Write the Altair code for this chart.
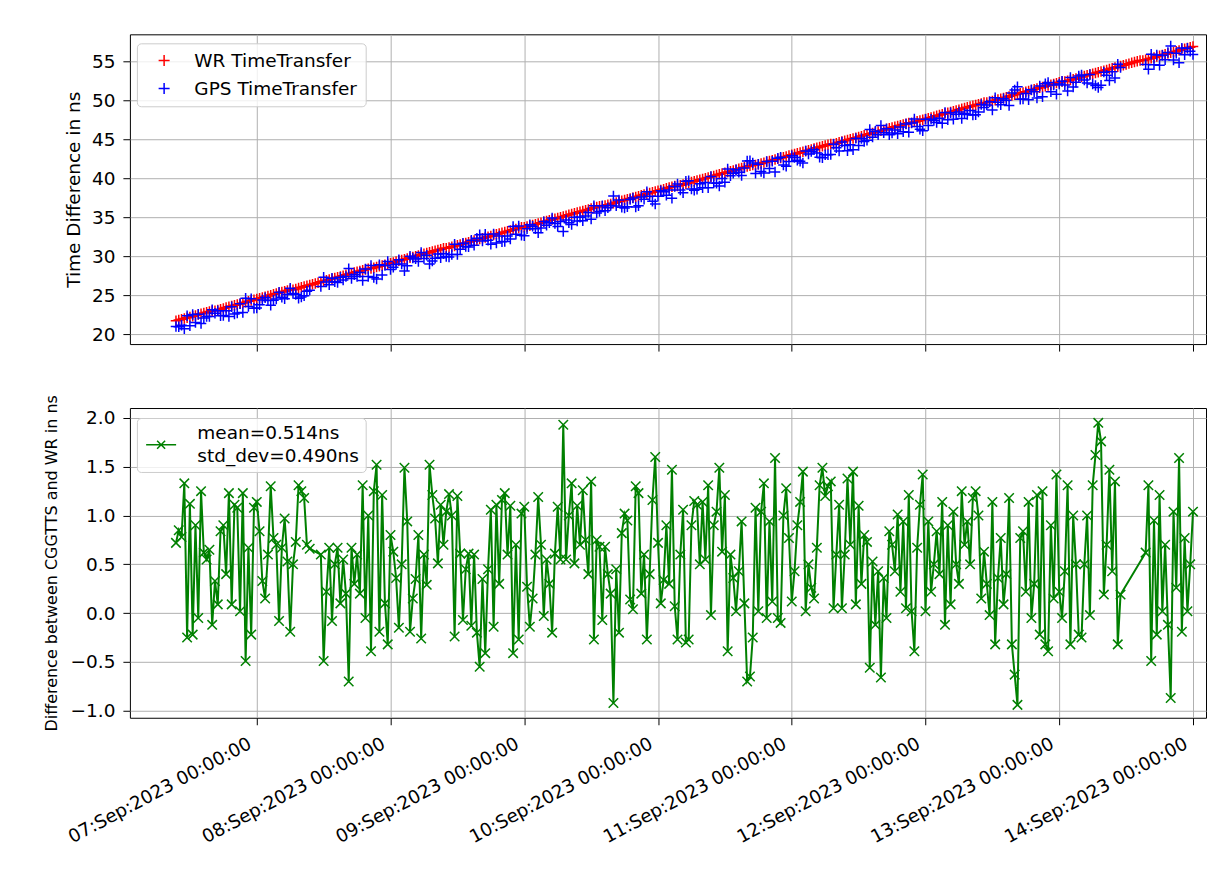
import altair as alt
import pandas as pd

# ---------------- data ----------------
START = "2023-09-06 09:30"      # first sample
STEP = "30min"                  # sample spacing

# Difference between CGGTTS and WR in ns (None = no GPS data in that slot)
DIFF = [
    0.72, 0.85, 0.78, 1.33, -0.25, 1.12, -0.22, 0.9, -0.05, 1.25,
    0.62, 0.55, 0.65, -0.12, 0.33, 0.09, 0.84, 0.9, 0.4, 1.23,
    0.09, 1.11, 1.08, 0.02, 1.23, -0.49, 0.67, -0.22, 1.08, 1.14,
    0.84, 0.33, 0.15, 0.6, 1.3, 0.77, 0.7, -0.08, 0.67, 0.97,
    0.53, -0.19, 0.5, 0.73, 1.31, 1.25, 1.18, 0.7, 0.66, None,
    None, None, 0.6, -0.49, 0.22, 0.67, -0.08, 0.5, 0.67, 0.1,
    0.55, 0.2, -0.7, 0.67, 0.3, 0.6, 0.2, 1.31, -0.05, 1.0,
    -0.39, 1.25, 1.52, -0.19, 1.21, 0.1, -0.32, 0.8, 0.63, 0.36,
    -0.15, 0.5, 1.49, 0.94, -0.19, 0.15, 0.35, 0.8, -0.26, 0.6,
    0.29, 1.52, 1.21, 0.97, 0.51, 1.11, 0.7, 1.04, 1.22, 1.0,
    -0.24, 1.2, 0.61, -0.07, 0.45, 0.61, -0.13, 0.6, -0.2, -0.55,
    0.35, -0.41, 0.45, 1.06, -0.14, 1.11, 0.3, 1.16, 1.23, 0.6,
    1.1, -0.41, 0.7, -0.27, 1.02, 1.09, 0.27, -0.14, 0.15, 0.6,
    1.19, 0.7, -0.03, 0.55, 0.3, -0.2, 0.61, 1.09, 0.55, 1.93,
    0.55, 1.0, 1.33, 0.51, 1.1, 0.7, 1.26, 0.75, 0.4, 1.35,
    -0.27, 0.75, 0.68, -0.07, 0.68, 0.4, 0.2, -0.92, 0.45, -0.2,
    0.82, 1.02, 0.95, 0.14, 0.04, 1.3, 1.23, 0.2, 0.6, -0.27,
    0.4, 1.16, 1.6, 0.72, 0.1, 0.34, 0.9, 0.3, 1.47, 0.07,
    -0.27, 0.6, 1.06, -0.3, -0.27, 0.9, 1.15, 1.11, 0.5, 1.14,
    0.55, 1.31, -0.02, 0.9, 1.04, 1.49, 0.63, 1.21, -0.39, 0.6,
    0.36, 0.02, 0.43, 0.94, 0.1, -0.7, -0.65, -0.25, 1.08, 0.02,
    1.04, 1.33, -0.05, 0.94, 0.12, 1.59, -0.05, -0.1, 1.0, 1.28,
    0.77, 0.12, 0.43, 0.9, 1.14, 1.45, 0.02, 0.5, 0.26, 0.15,
    0.67, 1.31, 1.49, 1.2, 1.3, 1.35, 0.05, 0.6, 1.11, 0.05,
    0.6, 1.38, 0.7, 1.45, 0.09, 1.1, 0.3, 0.8, 0.73, -0.56,
    0.53, -0.12, 0.43, -0.66, 0.36, -0.05, 0.84, 0.7, 0.43, 1.01,
    0.22, 0.94, 0.05, 1.21, 0.02, -0.39, 0.67, 1.11, 1.42, 0.02,
    0.94, 0.22, 0.5, 0.84, 0.4, 1.14, -0.12, 0.9, 0.09, 1.04,
    0.5, 0.3, 1.25, 0.7, 0.94, 0.5, 1.18, 1.25, 1.0, 0.15,
    0.63, 0.3, -0.02, 1.14, -0.32, 0.36, 0.77, 0.09, 0.4, 1.18,
    -0.32, -0.63, -0.94, 0.77, 0.84, 0.22, 1.14, -0.05, 0.3, 1.21,
    -0.22, 1.25, -0.32, -0.39, 0.9, 0.15, 1.42, 0.22, -0.05, 0.43,
    1.31, -0.32, 1.0, 0.5, -0.22, -0.25, 0.5, 1.0, -0.02, 1.31,
    1.62, 1.95, 1.76, 0.19, 0.7, 1.47, 0.43, 1.35, -0.32, 0.19,
    None, None, None, None, None, None, None, None, 0.62, 1.31,
    -0.49, 0.95, -0.22, 1.21, 0.02, 0.7, -0.12, -0.87, 1.04, 0.26,
    1.59, -0.19, 0.77, 0.02, 0.5, 1.04,
]

# WR TimeTransfer in ns (same time slots)
WR = [
    21.7, 21.8, 21.9, 22.0, 22.1, 22.2, 22.3, 22.4, 22.5, 22.6, 22.7, 22.8, 22.9, 23.0, 23.0,
    23.1, 23.2, 23.3, 23.4, 23.5, 23.6, 23.7, 23.8, 23.9, 24.0, 24.1, 24.2, 24.3, 24.4, 24.5,
    24.6, 24.7, 24.8, 24.9, 25.0, 25.1, 25.2, 25.3, 25.4, 25.5, 25.6, 25.7, 25.7,
    25.8, 25.9, 26.0, 26.1, 26.2, 26.3, 26.4, 26.5, 26.6, 26.7, 26.8, 26.9, 27.0, 27.1, 27.2,
    27.3, 27.4, 27.5, 27.6, 27.7, 27.8, 27.9, 28.0, 28.1, 28.2, 28.3, 28.4, 28.4,
    28.5, 28.6, 28.7, 28.8, 28.9, 29.0, 29.1, 29.2, 29.3, 29.4, 29.5, 29.6, 29.7, 29.8, 29.9,
    30.0, 30.1, 30.2, 30.3, 30.4, 30.5, 30.6, 30.7, 30.8, 30.9, 31.0, 31.0,
    31.1, 31.2, 31.3, 31.4, 31.5, 31.6, 31.7, 31.8, 31.9, 32.0, 32.1, 32.2, 32.3, 32.4, 32.5,
    32.6, 32.7, 32.8, 32.9, 33.0, 33.1, 33.2, 33.3, 33.4, 33.5, 33.6, 33.7, 33.7,
    33.8, 33.9, 34.0, 34.1, 34.2, 34.3, 34.4, 34.5, 34.6, 34.7, 34.8, 34.9, 35.0, 35.1, 35.2,
    35.3, 35.4, 35.5, 35.6, 35.7, 35.8, 35.9, 36.0, 36.1, 36.2, 36.3, 36.4, 36.4,
    36.5, 36.6, 36.7, 36.8, 36.9, 37.0, 37.1, 37.2, 37.3, 37.4, 37.5, 37.6, 37.7, 37.8, 37.9,
    38.0, 38.1, 38.2, 38.3, 38.4, 38.5, 38.6, 38.7, 38.8, 38.9, 39.0, 39.0,
    39.1, 39.2, 39.3, 39.4, 39.5, 39.6, 39.7, 39.8, 39.9, 40.0, 40.1, 40.2, 40.3, 40.4, 40.5,
    40.6, 40.7, 40.8, 40.9, 41.0, 41.1, 41.2, 41.3, 41.4, 41.5, 41.6, 41.7, 41.7,
    41.8, 41.9, 42.0, 42.1, 42.2, 42.3, 42.4, 42.5, 42.6, 42.7, 42.8, 42.9, 43.0, 43.1, 43.2,
    43.3, 43.4, 43.5, 43.6, 43.7, 43.8, 43.9, 44.0, 44.1, 44.2, 44.3, 44.4, 44.4,
    44.5, 44.6, 44.7, 44.8, 44.9, 45.0, 45.1, 45.2, 45.3, 45.4, 45.5, 45.6, 45.7, 45.8, 45.9,
    46.0, 46.1, 46.2, 46.3, 46.4, 46.5, 46.6, 46.7, 46.8, 46.9, 47.0, 47.1, 47.1,
    47.2, 47.3, 47.4, 47.5, 47.6, 47.7, 47.8, 47.9, 48.0, 48.1, 48.2, 48.3, 48.4, 48.5, 48.6,
    48.7, 48.8, 48.9, 49.0, 49.1, 49.2, 49.3, 49.4, 49.5, 49.6, 49.7, 49.7,
    49.8, 49.9, 50.0, 50.1, 50.2, 50.3, 50.4, 50.5, 50.6, 50.7, 50.8, 50.9, 51.0, 51.1, 51.2,
    51.3, 51.4, 51.5, 51.6, 51.7, 51.8, 51.9, 52.0, 52.1, 52.2, 52.3, 52.4, 52.4,
    52.5, 52.6, 52.7, 52.8, 52.9, 53.0, 53.1, 53.2, 53.3, 53.4, 53.5, 53.6, 53.7, 53.8, 53.9,
    54.0, 54.1, 54.2, 54.3, 54.4, 54.5, 54.6, 54.7, 54.8, 54.9, 55.0, 55.1, 55.1,
    55.2, 55.3, 55.4, 55.5, 55.6, 55.7, 55.8, 55.9, 56.0, 56.1, 56.2, 56.3, 56.4, 56.5, 56.6,
    56.7, 56.8, 56.9,
]

SERIES = ["WR TimeTransfer", "GPS TimeTransfer"]
SERIES_COLORS = ["red", "blue"]
DIFF_LABEL = ["mean=0.514ns", "std_dev=0.490ns"]
DIFF_COLOR = "green"
X_TICK_DAYS = [7, 8, 9, 10, 11, 12, 13, 14]
Y_TOP_TICKS = [20, 25, 30, 35, 40, 45, 50, 55]
Y_BOT_TICKS = [-1.0, -0.5, 0.0, 0.5, 1.0, 1.5, 2.0]

# ---------------- tables ----------------
n = min(len(DIFF), len(WR))
times = [t.strftime("%Y-%m-%dT%H:%M:%S") for t in pd.date_range(START, periods=n, freq=STEP)]

wr_rows, gps_rows, diff_rows = [], [], []
for t, w, d in zip(times, WR[:n], DIFF[:n]):
    wr_rows.append({"time": t, "value": w, "series": SERIES[0]})
    if d is None:
        continue
    gps_rows.append({"time": t, "value": round(w - d, 3), "series": SERIES[1]})
    diff_rows.append({"time": t, "diff": d, "label": DIFF_LABEL[0]})

top_df = pd.DataFrame(wr_rows + gps_rows)
diff_df = pd.DataFrame(diff_rows)

# ---------------- styling ----------------
FONT = "DejaVu Sans"
FS = 18.5
PLUS = "M-1,0L1,0M0,-1L0,1"
XMARK = "M-1,-1L1,1M-1,1L1,-1"
LEG_LINE_X = "M-3,2.3L3,2.3M-0.8,1.5L0.8,3.1M-0.8,3.1L0.8,1.5"

x_domain = [alt.DateTime(year=2023, month=9, date=6, hours=1, minutes=14),
            alt.DateTime(year=2023, month=9, date=14, hours=2, minutes=20)]
x_ticks = [alt.DateTime(year=2023, month=9, date=d) for d in X_TICK_DAYS]
x_scale = alt.Scale(domain=x_domain, nice=False)

W, H = 1077, 310

legend_common = dict(
    title=None, orient="none", labelFont=FONT, labelFontSize=FS, labelColor="black",
    fillColor="rgba(255,255,255,0.8)", strokeColor="#cccccc", cornerRadius=4,
    symbolStrokeWidth=1.5, labelLimit=0,
)

top = alt.Chart(top_df).mark_point(
    shape=PLUS, filled=False, size=110, strokeWidth=1.5, opacity=1
).encode(
    x=alt.X("time:T", scale=x_scale,
            axis=alt.Axis(values=x_ticks, labels=False, title=None)),
    y=alt.Y("value:Q", scale=alt.Scale(domain=[18.72, 58.46], nice=False, zero=False),
            axis=alt.Axis(values=Y_TOP_TICKS, format="d", title="Time Difference in ns")),
    color=alt.Color("series:N", scale=alt.Scale(domain=SERIES, range=SERIES_COLORS),
                    legend=alt.Legend(legendX=7, legendY=9, symbolType=PLUS, symbolSize=121,
                                      padding=8, symbolOffset=10, labelOffset=21, rowPadding=9,
                                      **legend_common)),
).properties(width=W, height=H)

bx = alt.X("time:T", scale=x_scale,
           axis=alt.Axis(values=x_ticks, format="%d:%b:%Y %H:%M:%S", title=None,
                         labelAngle=-28, labelAlign="right", labelBaseline="top",
                         labelFontSize=18.3, labelPadding=10, labelOffset=-11,
                         labelOverlap=False, labelFlush=False, labelLimit=0))
by = alt.Y("diff:Q", scale=alt.Scale(domain=[-1.072, 2.102], nice=False, zero=False),
           axis=alt.Axis(values=Y_BOT_TICKS, format=".1f", titleFontSize=16, titlePadding=11,
                         title="Difference between CGGTTS and WR in ns"))

line = alt.Chart(diff_df).mark_line(strokeWidth=2).encode(
    x=bx, y=by,
    color=alt.Color("label:N", scale=alt.Scale(domain=[DIFF_LABEL[0]], range=[DIFF_COLOR]),
                    legend=alt.Legend(legendX=7, legendY=10, symbolType=LEG_LINE_X, symbolSize=100,
                                      padding=6, symbolOffset=9, labelOffset=27,
                                      labelExpr="['%s', '%s']" % (DIFF_LABEL[0], DIFF_LABEL[1]),
                                      **legend_common)),
)
pts = alt.Chart(diff_df).mark_point(
    shape=XMARK, filled=False, size=90, strokeWidth=1.5, color=DIFF_COLOR, opacity=1
).encode(x=bx, y=by)

bottom = alt.layer(line, pts).properties(width=W, height=H)

chart = alt.vconcat(top, bottom, spacing=41).resolve_scale(
    color="independent"
).resolve_legend(
    color="independent"
).properties(
    padding={"left": 34, "top": 25, "right": 0, "bottom": 0}
).configure(
    font=FONT,
    style={"guide-label": {"lineHeight": 23}},
).configure_axis(
    labelFont=FONT, labelFontSize=FS, labelColor="black",
    titleFont=FONT, titleFontSize=FS, titleFontWeight="normal", titleColor="black",
    tickColor="black", tickSize=7, tickWidth=1,
    gridColor="#b0b0b0", gridWidth=1, grid=True, domain=False,
    labelPadding=8, titlePadding=8,
).configure_view(stroke="black", strokeWidth=1)

chart.save("out.html", embed_options={"renderer": "svg", "actions": False})
